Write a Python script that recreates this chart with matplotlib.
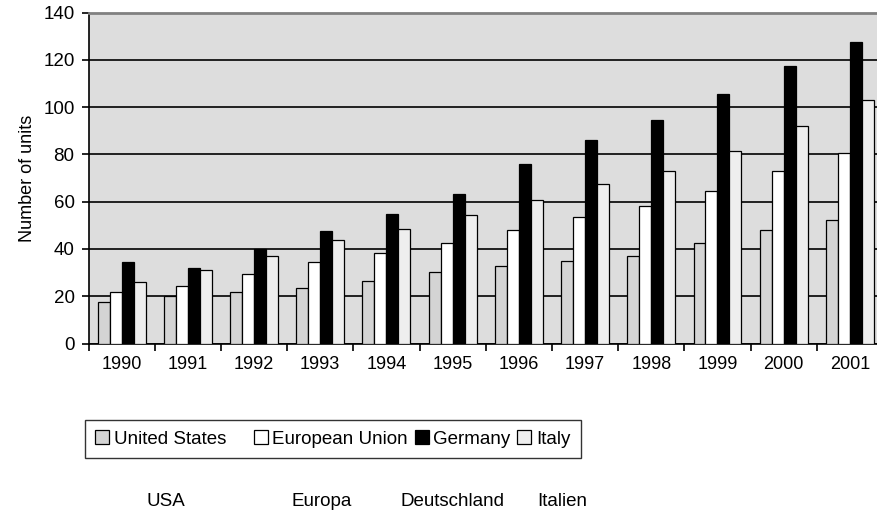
import numpy as np
import matplotlib
matplotlib.use("Agg")
import matplotlib.pyplot as plt
from matplotlib.patches import Patch

plt.rcParams['font.family'] = ['Liberation Sans', 'DejaVu Sans']

years = ['1990', '1991', '1992', '1993', '1994', '1995',
         '1996', '1997', '1998', '1999', '2000', '2001']
united_states = [17.6, 20.0, 21.6, 23.5, 26.5, 30.2, 32.6, 35.1, 36.9, 42.6, 47.9, 52.2]
european_union = [21.6, 24.2, 29.2, 34.3, 38.4, 42.7, 47.9, 53.6, 58.0, 64.7, 73.0, 80.7]
germany = [34.4, 32.0, 39.8, 47.4, 54.7, 63.4, 76.1, 86.2, 94.5, 105.5, 117.4, 127.6]
italy = [25.9, 30.9, 36.9, 43.8, 48.5, 54.4, 60.6, 67.5, 73.0, 81.5, 91.8, 102.8]
series_names = ['United States', 'European Union', 'Germany', 'Italy']
series_colors = ['#d4d4d4', '#ffffff', '#000000', '#eeeeee']
country_names = ['USA', 'Europa', 'Deutschland', 'Italien']

W, H = 877, 520
fig = plt.figure(figsize=(W / 100, H / 100), dpi=100)
fig.patch.set_facecolor('white')

left, right, top, bottom = 88.5, 883.0, 12.5, 343.5
ax = fig.add_axes([left / W, 1 - bottom / H, (right - left) / W, (bottom - top) / H])
ax.set_facecolor('#dddddd')

x = np.arange(len(years))
bw = 0.181
all_series = [united_states, european_union, germany, italy]
for k, (vals, col, name) in enumerate(zip(all_series, series_colors, series_names)):
    ax.bar(x + (k - 1.5) * bw, vals, width=bw, color=col, edgecolor='black',
           linewidth=0.9, label=name, zorder=3)

ax.set_xlim(-0.5, len(years) - 0.5)
ax.set_ylim(0, 140)
ax.set_yticks(np.arange(0, 141, 20))
ax.yaxis.grid(True, color='black', linewidth=1.2, zorder=1)
ax.set_axisbelow(True)

ax.set_xticks(x)
ax.set_xticklabels(years, fontsize=13)
ax.set_xticks(np.arange(len(years) + 1) - 0.5, minor=True)
ax.tick_params(axis='x', which='major', length=0, pad=9)
ax.tick_params(axis='x', which='minor', length=5, width=1.2, direction='out', color='black')
ax.tick_params(axis='y', length=5, width=1.2, direction='out', labelsize=13.5, pad=5)

for side in ['left', 'bottom']:
    ax.spines[side].set_color('black')
    ax.spines[side].set_linewidth(1.2)
ax.spines['top'].set_color('#808080')
ax.spines['top'].set_linewidth(2.0)
ax.spines['right'].set_visible(False)

ax.set_ylabel('Number of units', fontsize=13, labelpad=5)

handles = [Patch(facecolor=c, edgecolor='black', linewidth=0.9) for c in series_colors]
leg = fig.legend(handles, ['United States    ', 'European Union', 'Germany', 'Italy'],
                 loc='upper left', bbox_to_anchor=(84.7 / W, 1 - 420 / H),
                 ncol=4, fontsize=13.5, frameon=True, fancybox=False,
                 edgecolor='black', handlelength=0.75, handleheight=0.75,
                 handletextpad=0.25, columnspacing=0.35, borderpad=0.55,
                 borderaxespad=0)
leg.get_frame().set_linewidth(1.0)

for name, cx in zip(country_names, [166, 322, 452.5, 562.5]):
    fig.text(cx / W, 1 - 502 / H, name, ha='center', va='center', fontsize=13.5)

fig.savefig('out.png', dpi=100)
